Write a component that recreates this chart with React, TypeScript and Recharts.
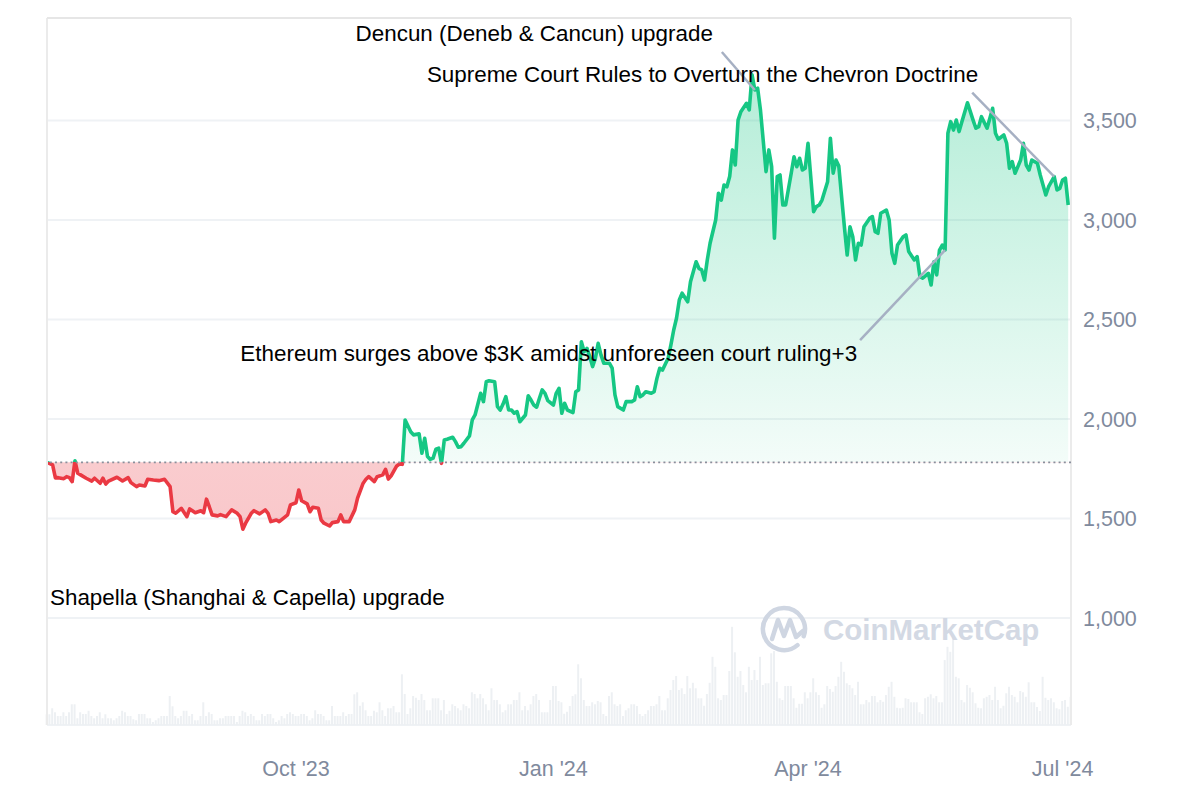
import React from "react";
import {
  ComposedChart,
  Area,
  Bar,
  XAxis,
  YAxis,
  CartesianGrid,
  ReferenceLine,
  ReferenceDot,
} from "recharts";

// days are counted from 4 Jul 2023 (day 0) to 4 Jul 2024 (day 366)
const tickDays = [89, 181, 272, 363];
const tickLabels = ["Oct '23", "Jan '24", "Apr '24", "Jul '24"];
const priceTicks = [1000, 1500, 2000, 2500, 3000, 3500];

const BASE_PRICE = 1782; // opening price, drawn as the dotted line

const priceDays = [
  0, 2, 3, 4, 6, 7, 8, 9, 10, 11, 12, 14, 16, 17, 19, 20, 21, 22, 25, 27, 29, 30, 32, 33, 35, 36, 38, 40, 42, 44,
  45, 46, 48, 50, 51, 53, 55, 56, 57, 58, 59, 61, 62, 64, 66, 68, 69, 70, 71, 73, 74, 76, 78, 79, 80, 82, 83, 86, 87, 89,
  90, 91, 93, 94, 95, 97, 98, 99, 101, 102, 104, 105, 106, 108, 110, 111, 113, 114, 115, 117, 118, 120, 121, 122, 123, 125, 126, 127, 128, 130,
  131, 133, 134, 135, 136, 137, 138, 139, 140, 141, 142, 143, 145, 146, 147, 148, 149, 151, 152, 153, 155, 156, 157, 158, 160, 161, 162, 163, 164, 165,
  166, 167, 168, 169, 171, 172, 173, 174, 175, 176, 177, 178, 179, 181, 182, 183, 184, 185, 186, 188, 189, 190, 191, 192, 193, 194, 195, 196, 197, 198,
  199, 201, 202, 203, 204, 206, 207, 209, 210, 211, 212, 213, 214, 216, 217, 218, 219, 220, 222, 223, 224, 225, 226, 227, 229, 230, 232, 233, 234, 235,
  236, 237, 239, 240, 241, 242, 243, 244, 245, 246, 247, 248, 250, 251, 252, 253, 254, 255, 257, 258, 259, 260, 261, 262, 263, 264, 266, 267, 268, 269,
  270, 271, 272, 274, 275, 276, 277, 279, 280, 281, 282, 283, 285, 286, 287, 288, 289, 290, 291, 292, 294, 295, 296, 297, 298, 300, 301, 302, 303, 304,
  306, 307, 308, 310, 311, 312, 313, 315, 316, 317, 318, 319, 320, 321, 322, 323, 324, 325, 326, 327, 329, 331, 332, 333, 334, 336, 337, 338, 339, 340,
  342, 343, 344, 345, 346, 348, 349, 350, 351, 352, 354, 355, 356, 357, 358, 360, 361, 362, 363, 364, 365,
];

const prices = [
  1782, 1769, 1704, 1705, 1700, 1710, 1705, 1685, 1790, 1727, 1719, 1702, 1688, 1702, 1677, 1702, 1673, 1688, 1707, 1688, 1705, 1680, 1660, 1668, 1663, 1697, 1693, 1690, 1697, 1660,
  1534, 1526, 1551, 1509, 1548, 1529, 1539, 1529, 1597, 1559, 1518, 1513, 1519, 1509, 1543, 1526, 1509, 1446, 1476, 1526, 1539, 1523, 1543, 1526, 1484, 1492, 1484, 1518, 1568, 1579,
  1643, 1589, 1573, 1534, 1556, 1551, 1492, 1476, 1462, 1479, 1484, 1518, 1484, 1484, 1543, 1602, 1677, 1697, 1710, 1685, 1710, 1719, 1747, 1698, 1714, 1764, 1774, 1772, 1995, 1936,
  1920, 1925, 1828, 1903, 1811, 1797, 1803, 1848, 1853, 1777, 1894, 1898, 1908, 1886, 1858, 1861, 1878, 1915, 1995, 2020, 2129, 2087, 2187, 2192, 2187, 2062, 2045, 2075, 2112, 2045,
  2045, 2029, 2037, 1986, 2020, 2116, 2095, 2070, 2059, 2104, 2146, 2129, 2092, 2070, 2129, 2154, 2029, 2079, 2045, 2032, 2137, 2146, 2388, 2338, 2355, 2313, 2263, 2305, 2380, 2322,
  2280, 2280, 2255, 2121, 2062, 2045, 2087, 2087, 2095, 2162, 2112, 2121, 2137, 2129, 2137, 2204, 2255, 2246, 2305, 2372, 2447, 2506, 2598, 2632, 2589, 2690, 2790, 2757, 2749, 2698,
  2799, 2883, 3000, 3134, 3100, 3176, 3167, 3218, 3352, 3276, 3502, 3544, 3586, 3553, 3729, 3653, 3662, 3553, 3243, 3352, 3268, 2908, 3218, 3226, 3075, 3075, 3235, 3318, 3268, 3310,
  3251, 3260, 3385, 3042, 3067, 3075, 3100, 3192, 3411, 3235, 3301, 3271, 2966, 2824, 2966, 2916, 2799, 2883, 2874, 2966, 3008, 3017, 2941, 2933, 3034, 3050, 3000, 2833, 2782, 2874,
  2916, 2925, 2841, 2799, 2816, 2715, 2707, 2732, 2673, 2790, 2724, 2849, 2874, 2849, 3436, 3494, 3452, 3502, 3444, 3494, 3589, 3502, 3461, 3469, 3519, 3461, 3511, 3561, 3436, 3406,
  3427, 3385, 3260, 3293, 3235, 3301, 3385, 3276, 3251, 3301, 3285, 3226, 3176, 3126, 3167, 3218, 3151, 3159, 3201, 3210, 3075,
];

// daily volume, $B, one value per day from day 0
const volumes = [
  4.3, 4.3, 6.7, 5.1, 3.6, 3.6, 5.1, 3.6, 5.1, 8.3, 8.3,
  2.7, 5.1, 4.4, 4.4, 5.7, 3.6, 2.7, 3.6, 5.1, 2.7, 4.3, 2.7, 2.7,
  1.9, 2.7, 3.6, 5.7, 5.1, 3.6, 3.6, 2.3, 1.9, 4.4,
  4.4, 4.4, 2.7, 2.7, 1.2, 1.9, 2.7, 3.6, 3.6, 3.6,
  11.6, 7.5, 3.6, 2.7, 3.6, 5.7, 5.7, 3.6, 4.4, 1.9,
  1.9, 3.6, 9.1, 3.6, 5.1, 4.4, 1.9, 1.9, 2.7, 2.7,
  3.6, 3.6, 3.6, 3.6, 1.2, 3.6, 5.7, 5.1, 3.6, 4.4,
  3.6, 1.9, 1.9, 4.4, 3.6, 4.4, 4.4, 2.7, 1.2, 1.9,
  3.6, 2.7, 4.4, 5.1, 4.4, 3.6,
  // day 90
  3.6, 4.4, 4.4, 3.6, 1.9, 2.7, 5.9, 4.4, 4.4, 3.6,
  1.9, 1.9, 7.6, 3.6, 3.6, 3.6, 5.1, 3.6, 4.4, 4.4, 12.3, 13.1, 7.7, 9.1, 5.9, 3.6, 3.6, 5.7, 5.1, 9.1,
  5.9, 3.6, 6.7, 6.7, 7.6, 5.1, 5.1, 20.3, 12.4, 4.4, 6.7, 11.6, 10.9, 10.0, 12.4, 10.0, 5.9, 5.9, 10.7, 10.7,
  10.7, 5.9, 10.0, 4.4, 5.7, 8.3, 7.6, 6.7, 5.9, 8.3, 7.6, 6.7, 13.1, 12.4, 10.7, 12.4, 10.7, 8.3, 5.9, 14.7,
  10.0, 10.0, 8.3, 5.1, 5.9, 8.3, 8.3, 10.0, 10.0, 13.1, 5.9, 7.6, 5.9, 8.3, 11.6, 12.4, 10.0, 5.1, 5.1, 5.1,
  10.0, 15.6,
  // day 182
  15.6, 9.6, 9.1, 4.5, 5.3, 7.6, 11.6, 12.3, 24.3, 18.7,
  10.0, 7.6, 7.6, 9.1, 8.3, 9.6, 9.1, 4.4, 3.6, 11.6, 13.1, 8.3, 7.6, 8.3, 3.6, 5.9, 6.7, 8.3, 8.3, 7.6,
  4.4, 3.6, 4.4, 5.9, 7.6, 7.6, 8.3, 11.6, 5.9, 5.9, 10.7, 14.0, 18.0, 19.6, 14.0, 14.7, 12.4, 19.6, 14.7, 16.9,
  14.7, 10.7, 10.7, 7.7, 12.4, 16.9, 27.3, 23.3, 10.7, 10.0, 12.0, 12.0, 21.6, 39.3, 29.1, 19.3, 21.6, 16.0, 13.1, 23.3,
  18.0, 22.0, 18.0, 27.3, 16.0, 16.7, 16.7, 28.7, 29.6, 17.3, 10.7, 10.0, 15.6, 15.6, 15.6, 10.7, 6.9, 8.5, 8.5, 13.1,
  10.7, 13.1,
  // day 274
  18.7, 13.1, 12.0, 6.9, 8.3, 15.6, 14.4, 13.3, 15.6, 19.3, 25.3, 21.3,
  16.7, 16.0, 14.7, 12.0, 17.3, 8.3, 8.3, 10.0, 9.1, 11.6, 11.6, 9.1, 10.0, 9.3, 12.0, 15.3, 17.3, 11.3, 6.9, 6.7, 6.9, 10.7, 10.4,
  9.1, 9.1, 9.1, 5.1, 4.4, 10.7, 11.3, 12.3, 10.7, 11.6, 9.1, 9.1, 26.0, 31.3, 29.3, 35.3, 19.3, 18.7, 10.0, 9.1, 16.0, 14.9, 13.1,
  8.7, 6.9, 6.7, 10.7, 11.3, 12.0, 10.0, 15.3, 10.0, 6.7, 7.7, 12.7, 15.3, 12.0, 11.3, 9.1, 13.6, 13.1, 11.3, 17.1, 9.1, 9.1, 7.2,
  5.6, 19.3, 10.9, 10.0, 10.7, 9.1, 6.7, 6.3, 9.6, 10.0, 7.3, 11.3,
];

const eventDays = [253, 321, 360];
const eventLabels = [
  "Dencun (Deneb & Cancun) upgrade",
  "Ethereum surges above $3K amidst unforeseen court ruling+3",
  "Supreme Court Rules to Overturn the Chevron Doctrine",
];
const offRangeNote = "Shapella (Shanghai & Capella) upgrade";

// pixel offsets of each callout from its point
const calloutOffsets = [
  { lx: -33, ly: -38, tx: -42, ty: -49 },
  { lx: -85, ly: 90, tx: -88, ty: 111 },
  { lx: -82, ly: -84, tx: -76, ty: -95 },
];

const FONT = '"Liberation Sans", Arial, Helvetica, sans-serif';
const GREEN = "#16c784";
const RED = "#ea3943";
const AXIS_GREY = "#808a9d";
const PRICE_DOMAIN: [number, number] = [462, 4015];

const priceByDay = new Map(priceDays.map((d, i) => [d, prices[i]]));
const rows = volumes.map((v, day) => ({
  day,
  volume: v,
  price: priceByDay.has(day) ? priceByDay.get(day) : null,
}));

const maxP = Math.max(...prices);
const minP = Math.min(...prices);
const split = (maxP - BASE_PRICE) / (maxP - minP);

function makeCallout(label: string, off: { lx: number; ly: number; tx: number; ty: number }) {
  return (props: any) => {
    const { cx, cy } = props;
    return (
      <g>
        <line
          x1={cx + off.lx}
          y1={cy + off.ly}
          x2={cx}
          y2={cy}
          stroke="#a6b0c3"
          strokeWidth={2.5}
        />
        <text
          x={cx + off.tx}
          y={cy + off.ty}
          textAnchor="end"
          fontSize={22.4}
          fill="#000"
          style={{ fontFamily: FONT }}
        >
          {label}
        </text>
      </g>
    );
  };
}

export default function App() {
  return (
    <div
      style={{
        position: "absolute",
        left: 0,
        top: 0,
        width: 1200,
        height: 800,
        background: "#fff",
        fontFamily: FONT,
      }}
    >
      <ComposedChart
        width={1200}
        height={800}
        data={rows}
        margin={{ top: 18, right: 49, bottom: 15, left: 47 }}
      >
        <defs>
          <linearGradient id="ethStroke" x1="0" y1="0" x2="0" y2="1">
            <stop offset={split} stopColor={GREEN} />
            <stop offset={split} stopColor={RED} />
          </linearGradient>
          <linearGradient id="ethFill" x1="0" y1="0" x2="0" y2="1">
            <stop offset={0} stopColor={GREEN} stopOpacity={0.32} />
            <stop offset={split} stopColor={GREEN} stopOpacity={0.05} />
            <stop offset={split} stopColor={RED} stopOpacity={0.26} />
            <stop offset={1} stopColor={RED} stopOpacity={0.28} />
          </linearGradient>
        </defs>
        <CartesianGrid vertical={false} stroke="#eff2f5" strokeWidth={2} />
        <XAxis
          type="number"
          dataKey="day"
          domain={[0, 366]}
          ticks={tickDays}
          interval={0}
          tickFormatter={(v: number) => tickLabels[tickDays.indexOf(v)]}
          axisLine={false}
          tickLine={false}
          tickMargin={30}
          height={60}
          tick={{ fontSize: 21.5, fill: AXIS_GREY }}
        />
        <YAxis
          orientation="right"
          domain={PRICE_DOMAIN}
          allowDataOverflow
          ticks={priceTicks}
          width={80}
          axisLine={false}
          tickLine={false}
          tickMargin={6}
          tickFormatter={(v: number) => v.toLocaleString("en-US")}
          tick={{ fontSize: 21.5, fill: AXIS_GREY }}
        />
        <YAxis yAxisId="vol" hide domain={[0, 283]} />
        <Bar
          yAxisId="vol"
          dataKey="volume"
          fill="#edf0f3"
          barSize={2}
          isAnimationActive={false}
        />
        <ReferenceLine x={0} stroke="#ebebeb" strokeWidth={2} />
        <ReferenceLine x={366} stroke="#ebebeb" strokeWidth={2} />
        <ReferenceLine y={PRICE_DOMAIN[1]} stroke="#e6e6e6" strokeWidth={2} />
        <ReferenceLine
          y={BASE_PRICE}
          stroke="#8a8f9c"
          strokeWidth={1.6}
          strokeDasharray="2 3.2"
        />
        <Area
          type="linear"
          dataKey="price"
          baseValue={BASE_PRICE}
          connectNulls
          stroke="url(#ethStroke)"
          strokeWidth={3.6}
          strokeLinejoin="round"
          fill="url(#ethFill)"
          fillOpacity={1}
          dot={false}
          activeDot={false}
          isAnimationActive={false}
        />
        {eventDays.map((d, i) => (
          <ReferenceDot
            key={d}
            x={d}
            y={priceByDay.get(d)}
            r={0}
            shape={makeCallout(eventLabels[i], calloutOffsets[i])}
          />
        ))}
      </ComposedChart>
      <svg
        width={1200}
        height={800}
        style={{ position: "absolute", left: 0, top: 0, pointerEvents: "none" }}
      >
        <text x={50} y={605} fontSize={22.4} fill="#000" style={{ fontFamily: FONT }}>
          {offRangeNote}
        </text>
        <g fill="none" stroke="#cfd6e2" strokeWidth={4.5} strokeLinecap="round" strokeLinejoin="round">
          <path d="M 797.5 645.1 A 21 21 0 1 1 803.7 636.2" />
          <path d="M 772 639 L 778 620 L 784 636 L 790 620 L 796 637 L 803 631" />
        </g>
        <text
          x={823}
          y={640}
          fontSize={29.5}
          fontWeight={700}
          fill="#d3d9e4"
          style={{ fontFamily: FONT }}
        >
          CoinMarketCap
        </text>
      </svg>
    </div>
  );
}
